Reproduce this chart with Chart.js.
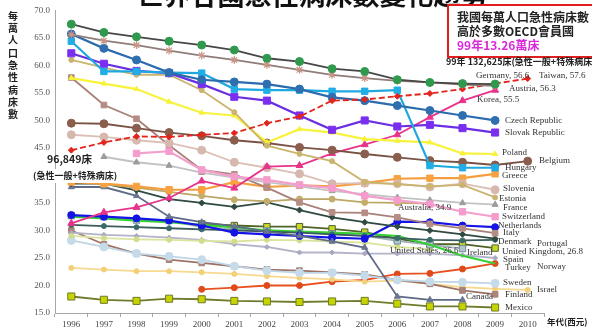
<!DOCTYPE html>
<html>
<head>
<meta charset="utf-8">
<script src="https://cdn.jsdelivr.net/npm/chart.js@4.4.0/dist/chart.umd.min.js"></script>
<style>
  html, body { margin: 0; padding: 0; background: #fff; }
  #wrap { width: 592px; height: 332px; }
</style>
</head>
<body>
<div id="wrap"><canvas id="bedChart" width="592" height="332"></canvas></div>
<script>
// Years on the x axis
const years = ['1996', '1997', '1998', '1999', '2000', '2001', '2002', '2003', '2004', '2005', '2006', '2007', '2008', '2009', '2010'];

// Acute care beds per 10,000 population
const germany = [67.5, 66.0, 65.2, 64.4, 63.7, 62.8, 61.3, 60.7, 59.4, 58.9, 57.4, 56.9, 56.7, 56.6, null];
const austria = [65.6, 64.5, 63.7, 62.7, 61.8, 61.0, 60.1, 59.2, 58.3, 57.7, 57.2, 56.9, 56.5, 56.3, null];
const taiwan = [44.6, 46.0, 47.1, 47.0, 47.4, 47.7, 49.5, 50.7, 53.6, 53.8, 54.4, 54.9, 55.7, 56.7, 57.6];
const czech = [65.7, 63.1, 61.0, 58.7, 57.4, 57.0, 56.6, 55.7, 54.2, 53.6, 52.7, 51.8, 50.9, 50.0, null];
const hungary = [64.4, 58.9, 58.9, 58.7, 58.6, 55.7, 55.5, 55.5, 55.3, 55.3, 55.5, 41.8, 41.4, 41.4, null];
const slovak = [62.2, 60.3, 59.0, 58.6, 56.6, 54.3, 53.6, 50.9, 48.3, 50.0, 48.9, 49.2, 48.6, 47.8, null];
const estonia = [61.0, 59.6, 58.3, 58.3, 55.5, 51.5, 45.4, 43.9, 42.6, 38.8, 38.4, 38.0, 38.3, 36.0, null];
const poland = [57.7, 56.7, 55.7, 53.4, 51.4, 50.9, 46.0, 48.4, 47.8, 46.6, 46.3, 46.0, 44.0, 43.9, null];
const belgium = [49.5, 49.4, 48.6, 47.8, 47.2, 46.4, 45.9, 45.1, 44.6, 43.9, 43.3, 42.7, 42.4, 41.9, 42.6];
const korea = [31.3, 33.3, 34.2, 35.9, 39.0, 37.7, 41.6, 41.8, 44.0, 45.6, 47.4, 50.6, 53.6, 55.5, null];
const switzerland = [null, null, 44.0, 44.4, 41.0, 39.8, 39.2, 38.3, 37.7, 36.3, 35.5, 34.8, 33.4, 32.5, null];
const france = [null, 43.4, 42.4, 41.8, 40.5, 39.6, 38.8, 38.0, 37.2, 36.6, 36.0, 35.5, 35.0, 34.7, null];
const slovenia = [47.4, 47.0, 46.4, 45.9, 44.6, 42.4, 41.4, 40.3, 38.5, 38.6, 38.5, 37.9, 38.5, 37.4, null];
const italy = [57.8, 52.8, 50.3, 45.5, 41.0, 40.2, 37.8, 35.1, 33.3, 33.2, 32.4, 31.2, 30.4, 29.5, null];
const greece = [38.8, 38.5, 38.0, 37.4, 37.4, 38.8, 37.9, 38.2, 38.0, 38.6, 39.4, 39.5, 39.5, 40.3, null];
const australia = [39.0, 38.4, 37.8, 37.0, 36.3, 35.6, 35.3, 35.7, 35.7, 35.1, 35.0, 34.9, null, null, null];
const denmark = [38.5, 38.5, 37.3, 35.7, 35.0, 34.3, 35.1, 33.7, 32.4, 31.5, 30.7, 30.0, 29.3, 28.5, null];
const canada = [37.9, 37.9, 36.3, 32.5, 31.5, 30.8, 29.8, 29.0, 28.0, 26.9, 18.0, 17.4, 17.4, null, null];
const netherlands = [32.8, 32.5, 32.2, 31.8, 30.9, 29.6, 29.3, 29.0, 28.7, 28.5, 31.6, 31.5, 30.9, 30.6, null];
const portugal = [31.0, 30.8, 30.6, 30.4, 30.2, 30.0, 29.8, 29.6, 29.3, 29.0, 28.6, 28.3, 28.2, 28.3, null];
const norway = [32.5, 32.2, 31.8, 31.5, 31.0, 30.6, 30.0, 29.8, 29.6, 29.4, 29.0, 27.4, 25.4, 24.0, null];
const ireland = [32.7, 32.5, 31.9, 31.8, 30.6, 30.3, 29.9, 29.6, 29.4, 29.0, 28.1, 27.4, 26.7, null, null];
const unitedKingdom = [null, null, null, null, 31.2, 30.9, 30.7, 30.7, 30.3, 29.7, 28.5, 27.5, 27.5, 26.8, null];
const unitedStates = [29.0, 28.6, 28.4, 28.3, 28.1, 28.0, 28.3, 28.2, 28.0, 27.8, 27.0, 26.6, null, null, null];
const spain = [29.6, 29.2, 29.0, 28.7, 28.3, 27.5, 27.0, 26.0, 26.0, 25.8, 25.8, 25.8, 25.5, 25.0, null];
const sweden = [28.2, 27.0, 25.8, 25.3, 24.7, 23.5, 22.7, 22.3, 22.3, 21.8, 21.0, 20.7, 20.6, 20.4, null];
const finland = [30.0, 27.5, 25.8, 24.7, 24.1, 23.5, 22.9, 22.7, 22.4, 22.0, 21.0, 20.3, 19.1, 18.4, null];
const israel = [23.2, 22.9, 22.6, 22.6, 22.4, 22.1, 21.7, 21.4, 21.1, 20.7, 20.9, 20.3, 19.7, 19.4, 19.2];
const turkey = [null, null, null, null, 19.3, 19.6, 20.0, 20.0, 20.7, 21.0, 22.1, 22.2, 23.0, 24.0, null];
const mexico = [18.0, 17.4, 17.2, 17.6, 17.5, 17.2, 17.1, 17.0, 17.1, 17.2, 16.7, 16.2, 16.2, 16.0, null];

// Y axis range
const yMin = 15;
const yMax = 70;
const yStep = 5;

// Country labels placed beside the line ends
const countryLabels = [
    ['Germany, 56.6', 476, 76], ['Taiwan, 57.6', 539, 76], ['Austria, 56.3', 509, 89],
    ['Korea, 55.5', 477, 100], ['Czech Republic', 505, 121], ['Slovak Republic', 505, 133],
    ['Poland', 502, 153], ['Belgium', 539, 161], ['Hungary', 505, 168], ['Greece', 502, 176],
    ['Slovenia', 503, 189], ['Estonia', 499, 199], ['Australia, 34.9', 398, 208], ['France', 503, 208],
    ['Switzerland', 502, 217], ['Netherlands', 498, 226], ['Italy', 503, 233], ['Denmark', 498, 242],
    ['Portugal', 537, 244], ['United States, 26.6', 390, 251], ['Ireland', 467, 253],
    ['United Kingdom, 26.8', 502, 252], ['Spain', 503, 260], ['Turkey', 505, 268], ['Norway', 537, 267],
    ['Sweden', 503, 283], ['Israel', 537, 290], ['Finland', 505, 295], ['Canada', 466, 297], ['Mexico', 505, 308]
];

const serif = '"Liberation Serif", "DejaVu Serif", serif';
const cjk = '"Noto Sans CJK TC", "Noto Sans CJK SC", sans-serif';

// Build one line dataset
const makeLine = (label, data, color, opts = {}) => ({
    label,
    data,
    borderColor: color,
    backgroundColor: opts.fill || color,
    pointBorderColor: opts.pointBorder || opts.fill || color,
    pointBackgroundColor: opts.fill || color,
    pointStyle: opts.style || 'circle',
    pointRadius: opts.radius !== undefined ? opts.radius : 3,
    pointBorderWidth: opts.pointBorderWidth || 1,
    borderWidth: opts.width || 1.8,
    borderDash: opts.dash || [],
    tension: 0,
    spanGaps: false
});

const datasets = [
    makeLine('Germany', germany, '#474747', { fill: '#2f9a4e', radius: 4 }),
    makeLine('Austria', austria, '#8e7d78', { fill: '#c99388', style: 'star', radius: 4, pointBorderWidth: 1.2 }),
    makeLine('Taiwan', taiwan, '#e3241c', { dash: [6, 3], style: 'rectRot', radius: 3 }),
    makeLine('Czech Republic', czech, '#2b6cad', { fill: '#2f6fb0', radius: 4, width: 2.2 }),
    makeLine('Hungary', hungary, '#1ea8e0', { fill: '#21aee6', style: 'rect', radius: 4.5, width: 2.2 }),
    makeLine('Slovak Republic', slovak, '#6a2fe0', { fill: '#7a2ff0', style: 'rect', radius: 5, width: 2.2 }),
    makeLine('Estonia', estonia, '#cbb46e', { radius: 2.5 }),
    makeLine('Poland', poland, '#f7f23a', { style: 'triangle', radius: 3, width: 2.2 }),
    makeLine('Belgium', belgium, '#7a5244', { fill: '#8a5d4c', radius: 4 }),
    makeLine('Korea', korea, '#e8338a', { style: 'triangle', radius: 4 }),
    makeLine('Switzerland', switzerland, '#f2a0cb', { fill: '#f59ccd', style: 'rect', radius: 4.5, width: 2.2 }),
    makeLine('France', france, '#c2c2c2', { fill: '#9c9c9c', style: 'triangle', radius: 3.5 }),
    makeLine('Slovenia', slovenia, '#dcc0b6', { fill: '#d6b8ae', radius: 4 }),
    makeLine('Italy', italy, '#a98079', { fill: '#b68d85', style: 'rect', radius: 4 }),
    makeLine('Greece', greece, '#f59e3f', { fill: '#f7a241', style: 'rect', radius: 4.5, width: 2.2 }),
    makeLine('Australia', australia, '#bda764', { fill: '#c4ad6a', radius: 3 }),
    makeLine('Denmark', denmark, '#2f4a40', { fill: '#2f4a40', style: 'rectRot', radius: 3 }),
    makeLine('Canada', canada, '#5f6a86', { fill: '#6a7590', style: 'triangle', radius: 3.5 }),
    makeLine('Netherlands', netherlands, '#1414e6', { fill: '#1414e6', radius: 3.5, width: 2.2 }),
    makeLine('Portugal', portugal, '#3a5c5c', { fill: '#3a6b6b', radius: 2.5 }),
    makeLine('Norway', norway, '#36d036', { radius: 0, width: 2.2 }),
    makeLine('Ireland', ireland, '#9fb3b6', { fill: '#b4c6ca', pointBorder: '#6e8c96', style: 'rect', radius: 4.5 }),
    makeLine('United Kingdom', unitedKingdom, '#4f6228', { fill: '#c9d62a', pointBorder: '#4f6228', style: 'rect', radius: 4.5 }),
    makeLine('United States', unitedStates, '#dbe49e', { fill: '#d2dc8c', radius: 2.5 }),
    makeLine('Spain', spain, '#b3b3c9', { fill: '#a9a9c2', style: 'rectRot', radius: 2.5 }),
    makeLine('Sweden', sweden, '#bed5e6', { fill: '#c6dbea', radius: 4 }),
    makeLine('Finland', finland, '#9b7265', { fill: '#a8847a', style: 'rect', radius: 4 }),
    makeLine('Israel', israel, '#f6d98e', { fill: '#f3cf78', radius: 2.5 }),
    makeLine('Turkey', turkey, '#e8501f', { fill: '#e04a1a', radius: 3 }),
    makeLine('Mexico', mexico, '#6d7b2b', { fill: '#c8d400', pointBorder: '#6d7b2b', style: 'rect', radius: 5 })
];

// Draw texts: cut title, vertical axis name, boxes and country names
const textLayer = {
    id: 'textLayer',
    afterDraw: (chart) => {
        const ctx = chart.ctx;
        ctx.save();

        // Title, mostly above the frame
        ctx.font = 'bold 27px ' + cjk;
        ctx.fillStyle = '#111';
        ctx.textAlign = 'center';
        ctx.textBaseline = 'alphabetic';
        ctx.fillText('世界各國急性病床數變化趨勢', 312, 5);

        // Vertical axis name
        ctx.font = 'bold 10px ' + cjk;
        ctx.fillStyle = '#222';
        ctx.textBaseline = 'middle';
        '每萬人口急性病床數'.split('').forEach((ch, i) => {
            ctx.fillText(ch, 13, 16 + i * 12.3);
        });

        // X axis name
        ctx.textAlign = 'left';
        ctx.font = 'bold 8.5px ' + cjk;
        ctx.fillText('年代(西元)', 547, 322);

        // Red note box
        ctx.fillStyle = '#fff';
        ctx.fillRect(448, 5, 150, 52);
        ctx.strokeStyle = '#e11d1d';
        ctx.lineWidth = 2;
        ctx.strokeRect(448, 5, 150, 52);
        ctx.font = 'bold 12px ' + cjk;
        ctx.fillStyle = '#222';
        ctx.fillText('我國每萬人口急性病床數', 457, 17);
        ctx.fillText('高於多數OECD會員國', 457, 31);
        ctx.fillStyle = '#d92ad9';
        ctx.fillText('99年13.26萬床', 457, 45);

        // Bed count notes
        ctx.fillStyle = '#222';
        ctx.font = 'bold 9px ' + cjk;
        ctx.fillText('99年 132,625床(急性一般+特殊病床)', 446, 62);
        ctx.font = 'bold 10.5px ' + cjk;
        ctx.fillText('96,849床', 47, 159);
        ctx.fillStyle = '#fff';
        ctx.fillRect(31, 169, 86, 14);
        ctx.fillStyle = '#222';
        ctx.font = 'bold 9px ' + cjk;
        ctx.fillText('(急性一般+特殊病床)', 33, 176);

        // Country names
        ctx.font = '9px ' + serif;
        ctx.fillStyle = '#333';
        countryLabels.forEach(([text, x, y]) => ctx.fillText(text, x, y));

        ctx.restore();
    }
};

const loadChart = () => {
    const ctx = document.getElementById('bedChart').getContext('2d');
    new Chart(ctx, {
        type: 'line',
        data: { labels: years, datasets },
        options: {
            responsive: false,
            animation: false,
            layout: { padding: { top: 9, right: 48, left: 0, bottom: 0 } },
            plugins: {
                legend: { display: false },
                tooltip: { enabled: false }
            },
            scales: {
                x: {
                    offset: true,
                    grid: { offset: true, drawOnChartArea: false, tickLength: 4, color: '#a6a6a6' },
                    border: { color: '#a6a6a6' },
                    ticks: {
                        autoSkip: false,
                        maxRotation: 0,
                        padding: 2,
                        color: '#444',
                        font: { family: serif, size: 9 }
                    },
                    afterFit: (scale) => { scale.height = 19; }
                },
                y: {
                    min: yMin,
                    max: yMax,
                    grid: { drawOnChartArea: false, drawTicks: false },
                    border: { color: '#a6a6a6' },
                    ticks: {
                        stepSize: yStep,
                        padding: 5,
                        color: '#555',
                        font: { family: serif, size: 9 },
                        callback: (v) => v.toFixed(1)
                    },
                    afterFit: (scale) => { scale.width = 55; }
                }
            }
        },
        plugins: [textLayer]
    });
};

document.addEventListener('DOMContentLoaded', loadChart);
</script>
</body>
</html>
